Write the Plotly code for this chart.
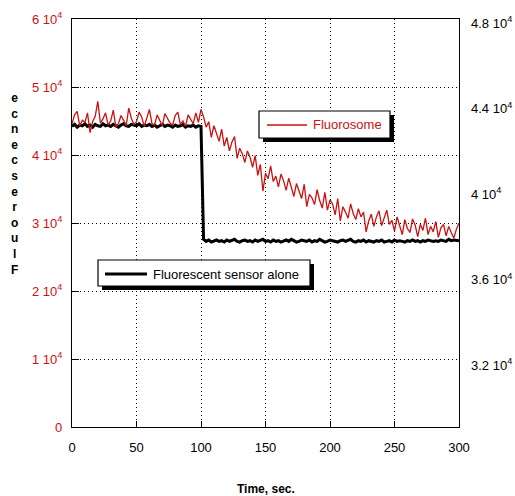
import plotly.graph_objects as go

# ---------------- data ----------------
red_t = list(range(0, 301, 2))
red_v = [
    44600, 45900, 46400, 44300, 45100, 44800, 46200, 43300, 44900, 45700,
    47900, 44700, 45300, 46200, 44400, 45000, 46600, 44100, 44600, 45800,
    45100, 44300, 46900, 45400, 44500, 44900, 46300, 45600, 44200, 45400,
    46700, 44600, 44400, 45900, 45200, 44300, 46100, 45500, 44700, 44400,
    45800, 46300, 44500, 45000, 44200, 45900, 45300, 44600, 46200, 44800,
    46700,
    45600, 44100, 44900, 42600, 44300, 43200, 42000, 43800, 41300, 42600,
    40600, 41900, 42700, 39500, 41000, 40200, 38900, 40600, 39700, 38200,
    39900, 37000, 38600, 34700, 37300, 36500, 38400, 36100, 36900, 35300,
    37200, 36200, 34800, 36600, 35100, 33900, 35800, 34600, 33600, 35700,
    32400, 34200, 33700, 32700, 34900, 33300, 32200, 34500, 31900, 33400,
    32800, 31200, 33600, 30300, 32400, 31600, 30700, 32800, 31400, 30500,
    32100, 30900, 31600, 28700, 30300, 31300, 29500, 30900, 31800, 29600,
    30700, 31900, 29800, 30400, 28800, 30900, 29600, 28300, 30500, 29200,
    28600, 30600, 29700, 28000, 29800, 28900, 30700, 28300, 29500, 28700,
    30200, 27900, 29300, 29800, 28100, 29500, 28600, 27800, 29100, 30000,
]

black_t = list(range(0, 301, 2))
black_v = [
    44200, 44500, 44100, 44400, 44300, 44600, 44200, 44400, 44100, 44500,
    44300, 44200, 44600, 44300, 44400, 44200, 44500, 44300, 44100, 44400,
    44600, 44300, 44200, 44500, 44400, 44300, 44600, 44200, 44400, 44300,
    44500, 44200, 44400, 44100, 44300, 44500, 44200, 44400, 44300, 44100,
    44400, 44200, 44300, 44500, 44100, 44300, 44200, 44400, 44100, 44300,
    44200,
    27600, 27300, 27500, 27200, 27400, 27500, 27300, 27400, 27200, 27500,
    27300, 27400, 27600, 27300, 27200, 27400, 27500, 27300, 27400, 27200,
    27500, 27300, 27400, 27600, 27300, 27400, 27200, 27500, 27300, 27400,
    27200, 27400, 27500, 27300, 27600, 27400, 27200, 27300, 27500, 27400,
    27300, 27500, 27200, 27400, 27300, 27600, 27400, 27200, 27300, 27500,
    27400, 27300, 27200, 27400, 27500, 27300, 27400, 27600, 27300, 27200,
    27400, 27300, 27500, 27200, 27400, 27300, 27200, 27400, 27300, 27500,
    27200, 27300, 27400, 27200, 27500, 27300, 27400, 27300, 27200, 27400,
    27300, 27500, 27300, 27400, 27200, 27400, 27300, 27500, 27400, 27300,
    27400, 27300, 27500, 27400, 27300, 27600, 27400, 27500, 27400, 27400,
]

x_ticks = [0, 50, 100, 150, 200, 250, 300]
left_ticks = [0, 10000, 20000, 30000, 40000, 50000, 60000]
left_text = ["0", "1 10<sup>4</sup>", "2 10<sup>4</sup>", "3 10<sup>4</sup>",
             "4 10<sup>4</sup>", "5 10<sup>4</sup>", "6 10<sup>4</sup>"]
right_ticks = [32000, 36000, 40000, 44000, 48000]
right_text = ["3.2 10<sup>4</sup>", "3.6 10<sup>4</sup>", "4 10<sup>4</sup>",
              "4.4 10<sup>4</sup>", "4.8 10<sup>4</sup>"]

RED = "#cc1111"
FONT = "Arial, Liberation Sans, sans-serif"

# ---------------- layout geometry ----------------
W, H = 515, 496
L, R, T, B = 72, 459, 19, 427


def px(x):
    return (x - L) / (R - L)


def py(y):
    return (B - y) / (B - T)


fig = go.Figure()
fig.add_trace(go.Scatter(x=black_t, y=black_v, mode="lines",
                         line=dict(color="black", width=3), showlegend=False))
fig.add_trace(go.Scatter(x=red_t, y=red_v, mode="lines",
                         line=dict(color=RED, width=1.3), showlegend=False))
# invisible trace to activate right axis
fig.add_trace(go.Scatter(x=[0, 300], y=[32000, 48000], yaxis="y2", mode="lines",
                         line=dict(width=0), opacity=0, showlegend=False,
                         hoverinfo="skip"))

shapes = []
annotations = []


def legend_box(x0, x1, y0, y1):
    shapes.append(dict(type="rect", xref="paper", yref="paper",
                       x0=px(x0 + 4), x1=px(x1 + 4), y0=py(y1 + 4), y1=py(y0 + 4),
                       fillcolor="black", line=dict(width=0), layer="above"))
    shapes.append(dict(type="rect", xref="paper", yref="paper",
                       x0=px(x0), x1=px(x1), y0=py(y1), y1=py(y0),
                       fillcolor="white", line=dict(color="black", width=1.2),
                       layer="above"))


legend_box(259, 390, 111, 138)
shapes.append(dict(type="line", xref="paper", yref="paper",
                   x0=px(267), x1=px(307), y0=py(125), y1=py(125),
                   line=dict(color=RED, width=1.5), layer="above"))
annotations.append(dict(x=px(311), y=py(125), xref="paper", yref="paper",
                        text="Fluorosome", showarrow=False, xanchor="left",
                        yanchor="middle", font=dict(family=FONT, size=13, color=RED)))

legend_box(98, 310, 260, 286)
shapes.append(dict(type="line", xref="paper", yref="paper",
                   x0=px(105), x1=px(147), y0=py(274), y1=py(274),
                   line=dict(color="black", width=3), layer="above"))
annotations.append(dict(x=px(151), y=py(274), xref="paper", yref="paper",
                        text="Fluorescent sensor alone", showarrow=False,
                        xanchor="left", yanchor="middle",
                        font=dict(family=FONT, size=13, color="black")))

# axis titles
annotations.append(dict(x=px(266), y=py(489), xref="paper", yref="paper",
                        text="<b>Time, sec.</b>", showarrow=False,
                        xanchor="center", yanchor="middle",
                        font=dict(family=FONT, size=12, color="black")))
letters = list("Fluorescence")[::-1]
annotations.append(dict(x=px(14), y=py(184), xref="paper", yref="paper",
                        text="<b>" + "<br>".join(letters) + "</b>", showarrow=False,
                        xanchor="center", yanchor="middle", align="center",
                        font=dict(family=FONT, size=12, color="black")))

GRIDDASH = "1px,3px"

fig.update_layout(
    width=W, height=H,
    margin=dict(l=L, r=W - R, t=T, b=H - B, autoexpand=False),
    paper_bgcolor="white", plot_bgcolor="white",
    font=dict(family=FONT, size=13, color="black"),
    xaxis=dict(range=[0, 300], tickvals=x_ticks, ticks="inside", ticklen=6,
               tickcolor="black", showline=True, linecolor="black", linewidth=1.2,
               mirror=True, showgrid=True, gridcolor="black", griddash=GRIDDASH,
               gridwidth=1, zeroline=False, ticklabelstandoff=8, automargin=False,
               tickfont=dict(family=FONT, size=13, color="black")),
    yaxis=dict(range=[0, 60000], tickvals=left_ticks, ticktext=left_text,
               ticks="inside", ticklen=7, tickcolor="black", showline=True,
               linecolor="black", linewidth=1.2, mirror=True, showgrid=True,
               gridcolor="black", griddash=GRIDDASH, gridwidth=1, zeroline=False,
               ticklabelstandoff=6, automargin=False,
               tickfont=dict(family=FONT, size=13, color=RED)),
    yaxis2=dict(range=[29100, 48190], overlaying="y", side="right",
                tickvals=right_ticks, ticktext=right_text, ticks="",
                showgrid=False, zeroline=False, showline=False,
                ticklabelstandoff=11, automargin=False,
                tickfont=dict(family=FONT, size=13, color="black")),
    shapes=shapes, annotations=annotations, showlegend=False,
)

fig.write_html("out.html")
